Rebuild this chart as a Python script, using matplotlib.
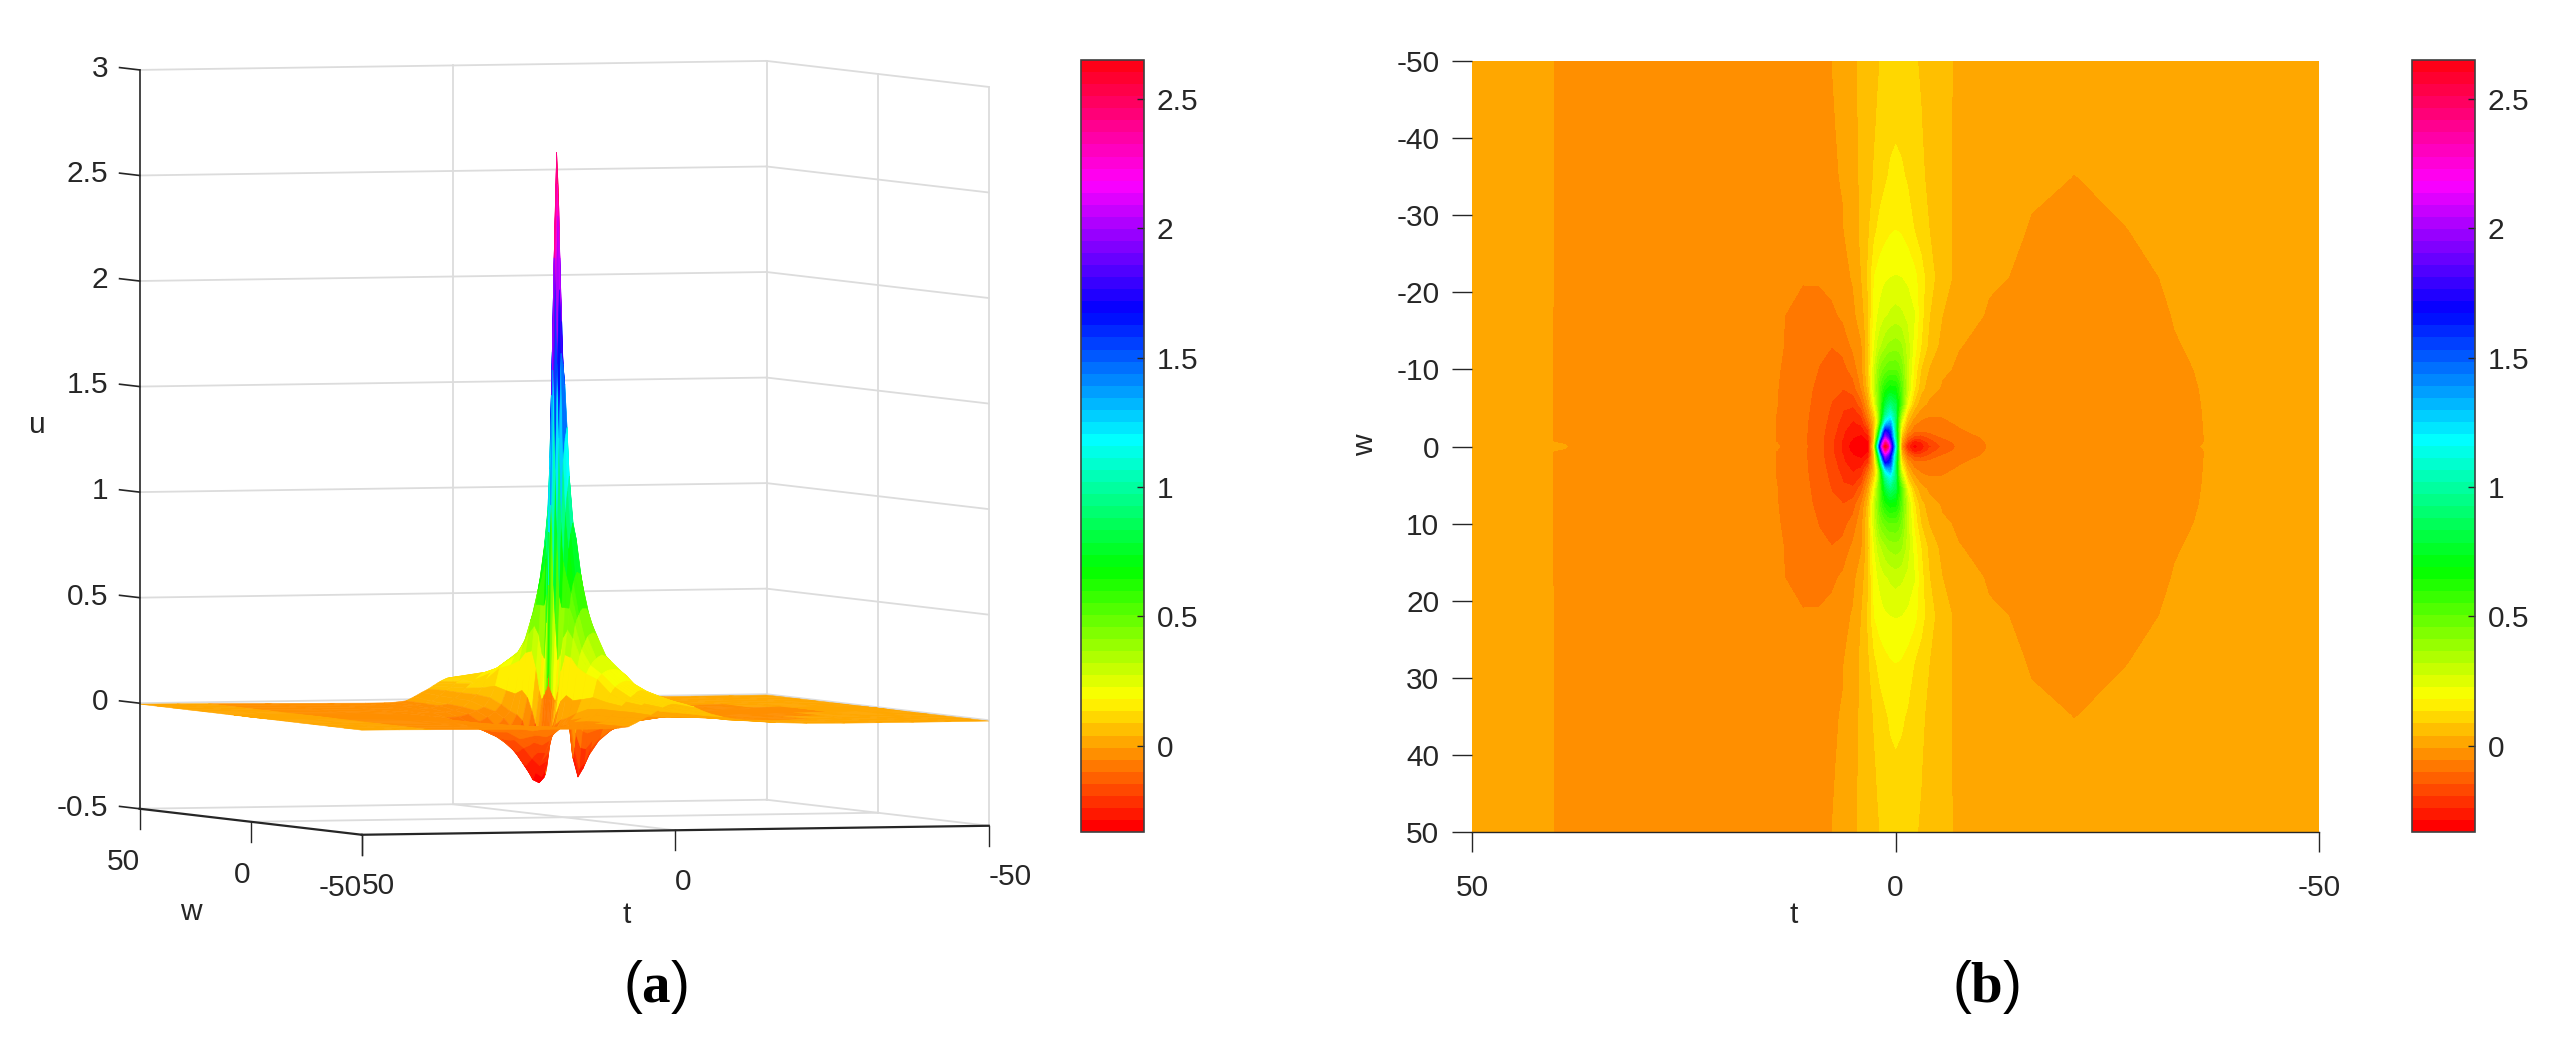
import colorsys
import numpy as np
import matplotlib
matplotlib.use("Agg")
import matplotlib.pyplot as plt
from matplotlib.cm import ScalarMappable
from matplotlib.colors import BoundaryNorm, ListedColormap
from mpl_toolkits.mplot3d import proj3d

plt.rcParams['font.family'] = ['Liberation Sans', 'DejaVu Sans']
plt.rcParams['mathtext.fontset'] = 'custom'
plt.rcParams['mathtext.rm'] = 'Liberation Serif'
plt.rcParams['mathtext.bf'] = 'Liberation Serif:bold'
plt.rcParams['axes.unicode_minus'] = False

# valores: t en columnas, |w| en filas (simetrico en w)
t_vals = [50, 44, 39, 30, 20, 14, 11, 9, 7.5, 6.2, 5, 4, 3.2, 2.5, 2.1, 1.8, 1.5, 1.2, 0.9, 0.6, 0, -0.35,
          -0.7, -1.4, -2.2, -3, -4, -5.5, -7.5, -11, -16, -21, -27, -33, -38, -44, -50]
w_vals = [0, 0.3, 0.6, 1.2, 2, 3, 4, 5.5, 7.5, 10, 13, 17, 22, 28, 35, 42, 50]
u_rows = [
    [-.0042, -.0052, -.0066, -.0105, -.024, -.049, -.088, -.13, -.185, -.25, -.32, -.335, -.31, .20, 1.1, 1.75, 2.3, 2.65, 2.45, 2.0, 1.15, .5,
     -.02, -.22, -.31, -.27, -.205, -.14, -.09, -.05, -.03, -.019, -.0125, -.0085, -.0056, -.005, -.004],
    [-.0043, -.0054, -.0068, -.011, -.0255, -.052, -.089, -.13, -.185, -.25, -.312, -.33, -.30, .16, .98, 1.62, 2.15, 2.5, 2.3, 1.92, 1.1, .5,
     0., -.2, -.29, -.26, -.19, -.13, -.088, -.05, -.03, -.019, -.0125, -.0087, -.0058, -.005, -.004],
    [-.0044, -.0056, -.0072, -.0115, -.027, -.054, -.09, -.13, -.185, -.25, -.305, -.325, -.295, .12, .85, 1.5, 2.0, 2.35, 2.15, 1.85, 1.05, .5,
     .02, -.17, -.27, -.245, -.175, -.125, -.085, -.05, -.03, -.019, -.0125, -.0088, -.0058, -.005, -.004],
    [-.0044, -.0056, -.0072, -.0115, -.027, -.054, -.09, -.13, -.18, -.24, -.285, -.305, -.26, .10, .6, 1.15, 1.65, 2.0, 1.85, 1.65, .95, .5,
     .06, -.10, -.17, -.175, -.14, -.10, -.072, -.047, -.028, -.019, -.0125, -.0088, -.0058, -.005, -.004],
    [-.0044, -.0056, -.0072, -.0115, -.027, -.054, -.089, -.128, -.172, -.23, -.283, -.27, -.2, .08, .42, .85, 1.3, 1.7, 1.65, 1.55, .9, .48,
     .13, -.03, -.09, -.1, -.09, -.075, -.058, -.041, -.027, -.018, -.0125, -.0087, -.0058, -.005, -.004],
    [-.0044, -.0056, -.0072, -.0115, -.027, -.054, -.088, -.126, -.165, -.215, -.25, -.23, -.115, .06, .25, .55, .9, 1.2, 1.3, 1.35, .88, .5,
     .22, .03, -.045, -.07, -.072, -.062, -.05, -.036, -.025, -.017, -.012, -.0086, -.0058, -.005, -.004],
    [-.0044, -.0056, -.0072, -.0115, -.027, -.054, -.087, -.123, -.158, -.2, -.225, -.19, -.06, .10, .27, .5, .72, .95, 1.05, 1.12, .9, .55,
     .33, .09, 0., -.035, -.052, -.052, -.043, -.033, -.023, -.016, -.012, -.0085, -.0058, -.005, -.004],
    [-.0044, -.0056, -.0072, -.0113, -.026, -.053, -.085, -.118, -.15, -.185, -.185, -.12, 0., .20, .36, .5, .65, .78, .85, .9, .82, .65,
     .5, .22, .07, .01, -.018, -.03, -.03, -.026, -.021, -.015, -.0115, -.0083, -.0058, -.005, -.004],
    [-.0044, -.0056, -.0072, -.0112, -.025, -.052, -.083, -.112, -.133, -.146, -.125, -.05, .06, .28, .40, .5, .57, .62, .65, .67, .66, .6,
     .5, .30, .14, .055, .012, -.012, -.016, -.019, -.017, -.013, -.0105, -.008, -.0058, -.005, -.004],
    [-.0044, -.0056, -.0072, -.011, -.024, -.05, -.078, -.102, -.118, -.118, -.08, -.025, .09, .27, .36, .42, .45, .47, .49, .5, .5, .48,
     .44, .30, .17, .085, .035, -.001, -.012, -.017, -.015, -.012, -.01, -.0075, -.0058, -.005, -.004],
    [-.0044, -.0056, -.0072, -.011, -.024, -.047, -.072, -.092, -.1, -.085, -.045, -.012, .07, .226, .28, .31, .33, .35, .37, .38, .39, .385,
     .37, .30, .205, .133, .07, .024, -.006, -.014, -.014, -.012, -.01, -.007, -.0056, -.0048, -.004],
    [-.0044, -.0056, -.0072, -.011, -.024, -.048, -.066, -.072, -.065, -.045, -.018, .015, .08, .20, .225, .24, .255, .265, .272, .28, .29, .285,
     .28, .26, .23, .15, .087, .04, .008, -.01, -.013, -.012, -.01, -.0065, -.0055, -.0048, -.004],
    [-.0044, -.0055, -.0072, -.0105, -.022, -.04, -.05, -.048, -.036, -.02, -.003, .04, .095, .18, .195, .205, .212, .218, .222, .225, .228, .227,
     .225, .215, .195, .155, .105, .06, .025, -.003, -.011, -.012, -.0095, -.0055, -.005, -.0045, -.004],
    [-.0044, -.0055, -.0072, -.0095, -.019, -.031, -.035, -.032, -.025, -.01, .02, .048, .08, .12, .138, .15, .158, .165, .17, .175, .18, .178,
     .175, .16, .133, .11, .086, .055, .028, .005, -.0085, -.0105, -.007, -.0045, -.0042, -.0042, -.004],
    [-.0044, -.0055, -.0072, -.009, -.016, -.024, -.026, -.023, -.012, -.004, .022, .048, .07, .09, .102, .11, .118, .125, .133, .14, .145, .143,
     .14, .128, .112, .095, .075, .052, .03, .008, -.003, -.0069, -.005, -.0042, -.0042, -.0042, -.004],
    [-.0044, -.0055, -.0072, -.0085, -.014, -.019, -.02, -.017, -.01, .0, .026, .05, .066, .082, .09, .096, .102, .108, .113, .118, .125, .122,
     .12, .11, .098, .088, .072, .052, .03, .009, 0., -.004, -.0045, -.0043, -.0042, -.0042, -.004],
    [-.0045, -.0055, -.0072, -.010, -.013, -.015, -.015, -.012, -.0068, .012, .032, .047, .062, .075, .082, .087, .091, .095, .098, .10, .102, .101,
     .10, .097, .09, .083, .068, .05, .034, .014, .003, -.002, -.004, -.0045, -.0045, -.0045, -.004],
]
surf_ticks_t = [50, 0, -50]
surf_ticks_w = [50, 0, -50]
surf_ticks_u = [-0.5, 0, 0.5, 1, 1.5, 2, 2.5, 3]
map_ticks_w = [-50, -40, -30, -20, -10, 0, 10, 20, 30, 40, 50]
bar_ticks = [0, 0.5, 1, 1.5, 2, 2.5]
bar_labels = ['0', '0.5', '1', '1.5', '2', '2.5']
u_min, u_max = -0.333, 2.65
n_colors = 64

ink = '#262626'
fs = 21.5
W, H = 2554, 1043

t_half = np.array(t_vals, dtype=float)
w_half = np.array(w_vals, dtype=float)
u_half = np.array(u_rows, dtype=float)
w_all = np.concatenate([-w_half[::-1], w_half[1:]])
u_all = np.vstack([u_half[::-1], u_half[1:]])
T, WW = np.meshgrid(t_half, w_all)

# hsv de MATLAB con 64 colores
cmap = ListedColormap([colorsys.hsv_to_rgb(i / n_colors, 1, 1) for i in range(n_colors)])
levels = np.linspace(u_min, u_max, n_colors + 1)
norm = BoundaryNorm(levels, n_colors)


def rect(x0, y0, x1, y1):
    # pixeles de la imagen -> fraccion de figura
    return [x0 / W, 1 - y1 / H, (x1 - x0) / W, (y1 - y0) / H]


fig = plt.figure(figsize=(W / 100, H / 100), dpi=100)

# (a) superficie
ax = fig.add_axes(rect(102, 10, 1002, 910), projection='3d')
ax.set_proj_type('ortho')
ax.view_init(elev=2.35, azim=250.7)
ax.set_box_aspect((663, 671, 738), zoom=1.2944)
ax.set_xlim(50, -50, view_margin=0)
ax.set_ylim(-50, 50, view_margin=0)
ax.set_zlim(-0.5, 3, view_margin=0)
ax.set_axis_off()
ax.computed_zorder = False


def label3d(t, w, z, s, ha='center'):
    # texto normal en la posicion proyectada del punto 3D
    px, py, _ = proj3d.proj_transform(t, w, z, ax.get_proj())
    ax.text2D(px, py, s, transform=ax.transData, ha=ha, va='center', fontsize=fs, color=ink)


grid_c = '#dcdcdc'
for z in surf_ticks_u:
    ax.plot([50, -50], [50, 50], [z, z], color=grid_c, lw=1.3, zorder=1)
    ax.plot([-50, -50], [50, -50], [z, z], color=grid_c, lw=1.3, zorder=1)
ax.plot([0, 0], [50, 50], [-0.5, 3], color=grid_c, lw=1.3, zorder=1)
ax.plot([-50, -50], [0, 0], [-0.5, 3], color=grid_c, lw=1.3, zorder=1)
ax.plot([-50, -50], [50, 50], [-0.5, 3], color=grid_c, lw=1.3, zorder=1)
ax.plot([-50, -50], [-50, -50], [-0.5, 3], color=grid_c, lw=1.3, zorder=1)
ax.plot([0, 0], [50, -50], [-0.5, -0.5], color=grid_c, lw=1.3, zorder=1)
ax.plot([50, -50], [0, 0], [-0.5, -0.5], color=grid_c, lw=1.3, zorder=1)

surf = ax.plot_surface(T, WW, u_all, cmap=cmap, norm=norm, rstride=1, cstride=1,
                       shade=False, linewidth=0.4, antialiased=True, zorder=2)
surf.set_edgecolor('face')

# ejes en negro
ax.plot([50, 50], [50, 50], [-0.5, 3], color=ink, lw=1.2, zorder=3)
ax.plot([50, 50], [50, -50], [-0.5, -0.5], color=ink, lw=1.6, zorder=3)
ax.plot([50, -50], [-50, -50], [-0.5, -0.5], color=ink, lw=1.6, zorder=3)
for z in surf_ticks_u:
    ax.plot([50, 50], [50, 59], [z, z], color=ink, lw=1.2, zorder=3)
    label3d(50, 64, z - 0.012, f'{z:g}', ha='right')
for w in surf_ticks_w:
    ax.plot([50, 50], [w, w], [-0.5, -0.595], color=ink, lw=1.0, zorder=3)
    label3d(50, w, -0.75, f'{w:g}', ha='right')
for t in surf_ticks_t:
    ax.plot([t, t], [-50, -50], [-0.5, -0.595], color=ink, lw=1.0, zorder=3)
    label3d(t, -50, -0.745, f'{t:g}', ha='left')
label3d(50, 27, -0.96, 'w')
label3d(7.8, -50, -0.898, 't')
label3d(50, 96, 1.263, 'u')

# (b) mapa de contornos
ax2 = fig.add_axes(rect(1472, 61, 2319, 832))
ax2.contourf(T, WW, u_all, levels=levels, cmap=cmap, norm=norm)
ax2.set_xlim(50, -50)
ax2.set_ylim(50, -50)
ax2.set_xticks(surf_ticks_t)
ax2.set_yticks(map_ticks_w)
ax2.tick_params(axis='both', direction='out', length=14.5, width=1.0, color=ink,
                labelcolor=ink, labelsize=fs, pad=9)
ax2.tick_params(axis='x', pad=16)
for side in ['top', 'right', 'left']:
    ax2.spines[side].set_visible(False)
ax2.spines['bottom'].set_color(ink)
ax2.spines['bottom'].set_linewidth(1.0)
fig.text(1794 / W, 1 - 915 / H, 't', ha='center', va='center', fontsize=fs, color=ink)
fig.text(1365 / W, 1 - 445 / H, 'w', ha='center', va='center', rotation=90, fontsize=fs, color=ink)

# barras de color
for box in [(1081, 60, 1144, 832), (2412, 60, 2475, 832)]:
    cax = fig.add_axes(rect(*box))
    cb = fig.colorbar(ScalarMappable(norm=norm, cmap=cmap), cax=cax, ticks=bar_ticks, spacing='proportional')
    cb.ax.set_yticklabels(bar_labels)
    cb.ax.tick_params(axis='y', direction='in', length=5, width=1.0, color=ink,
                      labelcolor=ink, labelsize=fs, pad=9)
    cb.ax.minorticks_off()
    cb.outline.set_edgecolor('#404040')
    cb.outline.set_linewidth(1.2)

fig.text(655 / W, 1 - 987 / H, r'($\mathbf{a}$)', ha='center', va='center', fontsize=41, color='black')
fig.text(1986 / W, 1 - 987 / H, r'($\mathbf{b}$)', ha='center', va='center', fontsize=41, color='black')

fig.savefig('out.png', dpi=100)
